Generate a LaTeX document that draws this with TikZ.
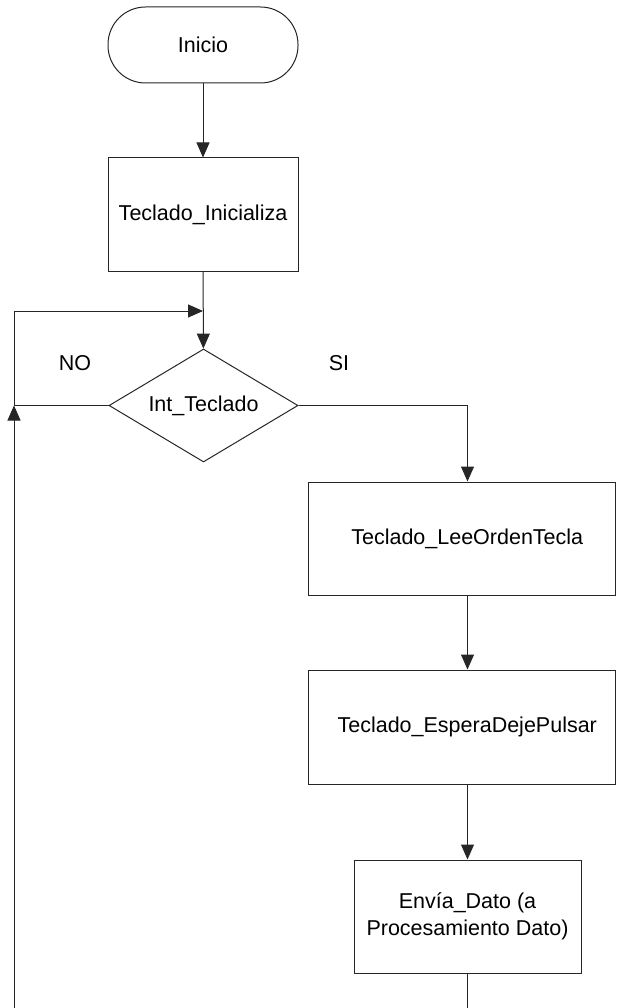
\documentclass[tikz,border=0pt]{standalone}
\usepackage{fontspec}
\setmainfont{Liberation Sans}
\usetikzlibrary{arrows.meta,shapes.geometric}
\begin{document}
\begin{tikzpicture}[x=1pt,y=-1pt,
  every node/.style={font=\fontsize{21.5}{27}\selectfont},
  ln/.style={draw=black!85,line width=1pt},
  arr/.style={ln,-{Triangle[length=15pt,width=13pt]}},
  procbox/.style={draw=black!85,line width=1pt,rectangle,inner sep=0pt,align=center},
  termbox/.style={draw=black!85,line width=1pt,rectangle,rounded corners=37.5pt,inner sep=0pt},
  decbox/.style={draw=black!85,line width=1pt,diamond,inner sep=0pt,aspect=1.67},
  lbl/.style={inner sep=0pt}]
\useasboundingbox (0,0) rectangle (616,1008);

\node[termbox,minimum width=190pt,minimum height=76pt] (start) at (203,45) {Inicio};
\node[procbox,minimum width=190pt,minimum height=113pt] (init) at (203,214.5) {Teclado\_Inicializa};
\node[decbox,minimum width=189pt,minimum height=113pt] (dec) at (203.5,405.5) {Int\_Teclado};
\node[procbox,minimum width=307.5pt,minimum height=113pt,
  label={[lbl,xshift=5.5pt]center:Teclado\_LeeOrdenTecla}] (lee) at (461.75,538.5) {};
\node[procbox,minimum width=307.5pt,minimum height=114pt,
  label={[lbl,xshift=5.5pt]center:Teclado\_EsperaDejePulsar}] (esp) at (461.75,727) {};
\node[procbox,minimum width=227pt,minimum height=113pt] (env) at (467.5,916.5) {Envía\_Dato (a\\Procesamiento Dato)};

\node[lbl] (no) at (75,363) {NO};
\node[lbl] (si) at (339,363) {SI};

\coordinate (colx) at (467.5,0);
\coordinate (jl) at (14,405.5);
\coordinate (tl) at (14,311);
\coordinate (jt) at (203,311);
\coordinate (bl) at (14,1010);
\coordinate (br) at (467.5,1010);

\draw[arr] (start) -- (init);
\draw[arr] (init) -- (dec);
\draw[ln] (dec.west) -- (jl);
\draw[arr] (bl) -- (jl);
\draw[arr] (jl) -- (tl) -- (jt);
\draw[arr] (dec.east) -| (lee.north -| colx);
\draw[arr] (lee.south -| colx) -- (esp.north -| colx);
\draw[arr] (esp.south -| colx) -- (env.north);
\draw[ln] (env.south) -- (br);
\end{tikzpicture}
\end{document}
